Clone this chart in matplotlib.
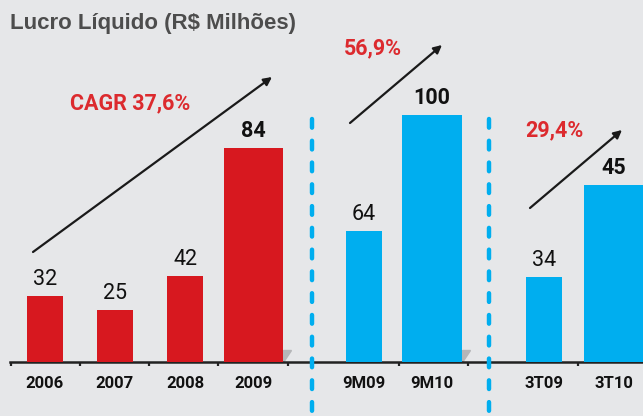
import matplotlib
matplotlib.use('Agg')
import matplotlib.pyplot as plt
from matplotlib.patches import Polygon

# --- data ---
categories = ['2006', '2007', '2008', '2009', '9M09', '9M10', '3T09', '3T10']
values = [32, 25, 42, 84, 64, 100, 34, 45]
# bar heights as drawn in the picture (not to scale with the labels)
bar_heights = [26.7, 21.1, 34.8, 86.6, 53.0, 100.0, 34.4, 71.7]
groups = ['ano', 'ano', 'ano', 'ano', '9m', '9m', '3t', '3t']
highlight = [False, False, False, True, False, True, False, True]
growth_labels = ['CAGR 37,6%', '56,9%', '29,4%']

# --- layout (image pixels) ---
W, H = 643, 416
BASE = 362          # baseline, px from top
SCALE = 2.47        # px per unit
xpos = [45, 115, 185, 253.5, 364, 432, 544, 613.5]
widths = [36, 36, 36, 59, 36, 60, 36, 59]
tick_x = [11, 80, 149, 218, 288, 399, 468, 578]
sep_x = [312, 489]
arrows = [((33, 252), (272, 77)), ((350, 123), (442, 45)), ((530, 208), (622, 130))]
growth_pos = [(130, 103), (373, 48), (554, 130)]

RED = '#d7181f'
BLUE = '#00aeef'
TXT_RED = '#dc2a2e'
BG = '#e6e7e9'
NARROW = ['Roboto', 'DejaVu Sans']

def yd(ypix):
    return (BASE - ypix) / SCALE

fig = plt.figure(figsize=(W / 100, H / 100), dpi=100, facecolor=BG)
ax = fig.add_axes([10 / W, (H - BASE) / H, (W - 10) / W, BASE / H])
ax.set_facecolor(BG)
ax.set_xlim(10, W)
ax.set_ylim(0, BASE / SCALE)

colors = [RED if g == 'ano' else BLUE for g in groups]
bars = ax.bar(xpos, bar_heights, width=widths, color=colors, zorder=3)

# small shadow folds on the wide bars
for b, hl in zip(bars, highlight):
    if hl and b.get_x() + b.get_width() < W - 5:
        r = b.get_x() + b.get_width()
        ax.add_patch(Polygon([(r, 0), (r, 12 / SCALE), (r + 8, 12 / SCALE)],
                             closed=True, color='#b5b6b8', zorder=2))

for b, v, hl in zip(bars, values, highlight):
    ax.text(b.get_x() + b.get_width() / 2, b.get_height() + 6 / SCALE, str(v),
            ha='center', va='bottom', fontsize=15.5, family=NARROW,
            fontweight='bold' if hl else 'normal', color='#111111', zorder=4)

for x, lab in zip(xpos, categories):
    ax.text(x, yd(384), lab, ha='center', va='center', fontsize=12,
            family=NARROW, fontweight='bold', color='#111111', clip_on=False)

for sx in sep_x:
    ax.plot([sx, sx], [yd(119), yd(H + 5)], color=BLUE, lw=3.2,
            ls=(0, (1.95, 2.95)), dash_capstyle='round', clip_on=False, zorder=5)

for (x0, y0), (x1, y1) in arrows:
    ax.annotate('', xy=(x1, yd(y1)), xytext=(x0, yd(y0)),
                arrowprops=dict(arrowstyle='-|>', color='#1a1a1a', lw=1.6,
                                mutation_scale=12, shrinkA=0, shrinkB=0),
                annotation_clip=False)

for (gx, gy), lab in zip(growth_pos, growth_labels):
    ax.text(gx, yd(gy), lab, ha='center', va='center', fontsize=15.5,
            family=NARROW, fontweight='bold', color=TXT_RED)

for s in ['top', 'right', 'left']:
    ax.spines[s].set_visible(False)
ax.spines['bottom'].set_linewidth(1.8)
ax.spines['bottom'].set_color('#222222')
ax.set_yticks([])
ax.set_xticks(tick_x)
ax.set_xticklabels([])
ax.tick_params(axis='x', direction='out', length=3, width=1.6, color='#222222')

fig.text(10 / W, 1 - 23 / H, 'Lucro Líquido (R$ Milhões)', ha='left', va='center',
         fontsize=16, fontweight='bold', color='#4d4d4d',
         family=['Liberation Sans', 'DejaVu Sans'])

fig.savefig('out.png', dpi=100, facecolor=BG)
